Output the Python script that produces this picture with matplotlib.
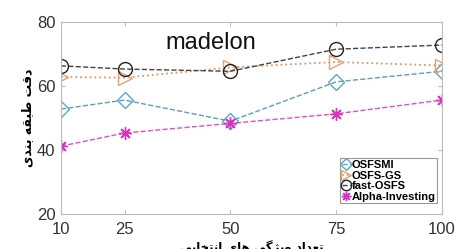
import matplotlib.pyplot as plt

x = [10, 25, 50, 75, 100]
osfsmi = [52.8, 55.6, 49.0, 61.3, 64.6]
osfs_gs = [62.8, 62.6, 65.8, 67.5, 66.4]
fast_osfs = [66.3, 65.3, 64.6, 71.5, 72.8]
alpha_inv = [41.2, 45.3, 48.3, 51.3, 55.6]
labels = ["OSFSMI", "OSFS-GS", "fast-OSFS", "Alpha-Investing"]

# persian labels written in presentation forms, visual order
ylab = "\uFEEF\uFEAA\uFEE8\uFE91 \uFEEA\uFED8\uFE92\uFEC3 \uFE96\uFED7\uFEA9"
xlab = ("\uFEF0\uFE91\uFE8E\uFEA8\uFE98\uFEE7\uFE8D \uFEEF\uFE8E\uFEEB "
        "\uFEF0\uFB94\uFB8B\uFEF3\uFEED \uFEA9\uFE8D\uFEAA\uFECC\uFE97")

plt.rcParams['font.family'] = ['Liberation Sans', 'DejaVu Sans']

fig = plt.figure(figsize=(4.59, 2.49), dpi=100)
ax = fig.add_axes([61/459, 1-214/249, 381/459, 192/249])

ax.plot(x, osfsmi, linestyle="--", color="#5a9fbf", marker="D", markersize=8,
        markerfacecolor="none", markeredgecolor="#5aa8c8", linewidth=1, label=labels[0])
ax.plot(x, osfs_gs, linestyle=":", color="#e0956a", marker=">", markersize=10,
        markerfacecolor="none", markeredgecolor="#e8a070", linewidth=1.3, label=labels[1])
ax.plot(x, fast_osfs, linestyle="--", color="#444444", marker="o", markersize=10,
        markerfacecolor="none", markeredgecolor="#222222", linewidth=1, label=labels[2])
ax.plot(x, alpha_inv, linestyle="--", color="#e050c8", marker=(8, 2, 0), markersize=9,
        markerfacecolor="none", markeredgecolor="#e030c0", linewidth=1, label=labels[3])

ax.set_xlim(10, 100)
ax.set_ylim(20, 80)
ax.set_xticks(x)
ax.set_yticks([20, 40, 60, 80])
ax.tick_params(axis="x", pad=6)
ax.tick_params(axis="y", pad=4)
ax.tick_params(direction="in", top=True, right=True, labelsize=12, colors="#bbbbbb",
               labelcolor="#333333", length=3)
for s in ax.spines.values():
    s.set_color("#bbbbbb")

ax.text(45.5, 73.5, "madelon", fontsize=17, ha="center", va="center", color="#111111")

ax.set_ylabel(ylab, family="DejaVu Sans", fontweight="bold", fontsize=9, labelpad=2)
fig.text(252/459, 1-241/249, xlab, family="DejaVu Sans", fontweight="bold",
         fontsize=8.5, ha="center", va="top")

leg = ax.legend(loc="lower right", bbox_to_anchor=(0.99, 0.05),
                prop={"weight": "bold", "size": 8}, handlelength=0.8,
                handletextpad=0.05, borderpad=0.15, labelspacing=0.05,
                borderaxespad=0.1, fancybox=False, edgecolor="#999999",
                framealpha=1, markerscale=0.75)
leg.get_frame().set_linewidth(0.8)

fig.savefig("out.png", dpi=100)
